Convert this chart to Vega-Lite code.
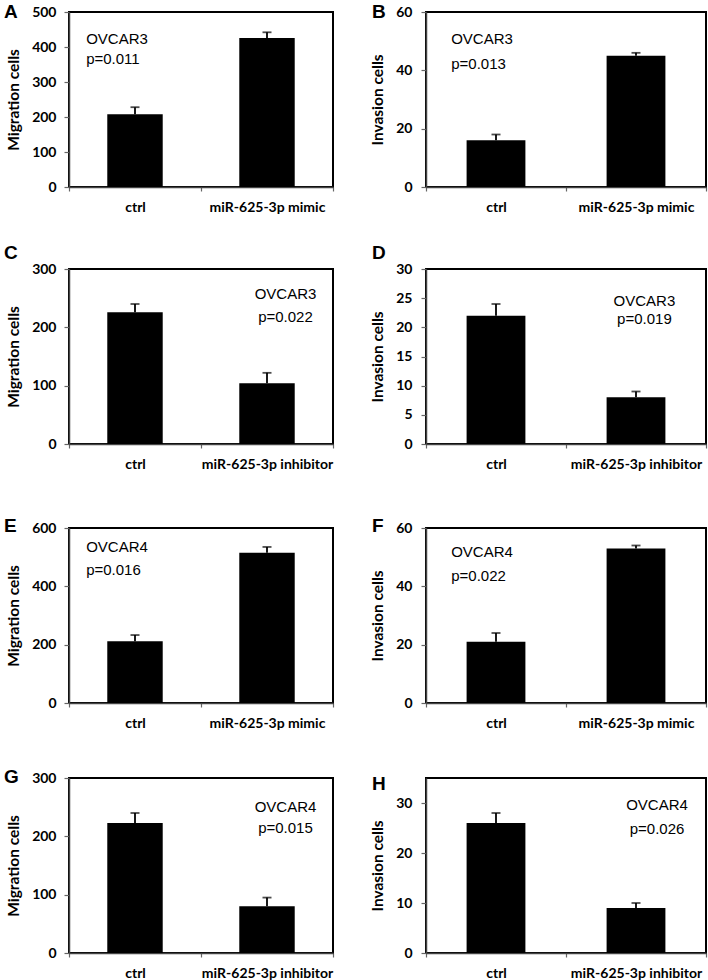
{
  "$schema": "https://vega.github.io/schema/vega-lite/v6.json",
  "padding": {"left": 3, "top": 2, "right": 0, "bottom": 0},
  "background": "white",
  "config": {
    "view": {"stroke": "black", "strokeWidth": 2},
    "axis": {"grid": false, "domainColor": "#444", "domainWidth": 1.5, "tickColor": "#666", "tickWidth": 1.2, "labelFont": "Lato", "labelFontWeight": "bold", "labelFontSize": 14, "labelColor": "black", "titleFont": "Lato", "titleFontWeight": "bold", "titleFontSize": 15.5, "titleColor": "black"},
    "axisY": {"tickSize": 5, "labelPadding": 8, "titlePadding": 10},
    "axisX": {"tickSize": 4, "labelPadding": 9, "labelAngle": 0, "tickBand": "extent"},
    "title": {"font": "Liberation Sans", "fontSize": 19, "fontWeight": "bold", "color": "black", "anchor": "start", "frame": "group", "baseline": "top", "offset": 0}
  },
  "spacing": 44,
  "vconcat": [
    {
      "spacing": 28,
      "vconcat": [
        {
          "spacing": 34,
          "hconcat": [
            {
              "width": 264, "height": 175,
              "title": {"text": "A", "dx": -65, "dy": 21},
              "data": {"values": [{"grp": "ctrl", "value": 208, "upper": 228}, {"grp": "miR-625-3p mimic", "value": 426, "upper": 442}]},
              "encoding": {
                "x": {"field": "grp", "type": "nominal", "sort": null, "title": null, "scale": {"paddingInner": 0, "paddingOuter": 0}},
                "y": {"field": "value", "type": "quantitative", "title": "Migration cells", "scale": {"domain": [0, 500], "nice": false}, "axis": {"values": [0, 100, 200, 300, 400, 500]}}
              },
              "layer": [
                {"mark": {"type": "bar", "color": "black", "width": {"band": 0.42}}},
                {"mark": {"type": "rule", "color": "black", "strokeWidth": 1.8}, "encoding": {"y2": {"field": "upper"}}},
                {"mark": {"type": "tick", "color": "black", "thickness": 1.8, "size": 9, "orient": "horizontal"}, "encoding": {"y": {"field": "upper", "type": "quantitative", "title": "Migration cells"}}},
                {"data": {"values": [{"grp": "ctrl", "value": 409, "label": "OVCAR3"}, {"grp": "ctrl", "value": 351, "label": "p=0.011"}]},
                 "mark": {"type": "text", "align": "left", "baseline": "alphabetic", "font": "Liberation Sans", "fontSize": 15},
                 "encoding": {"x": {"field": "grp", "type": "nominal", "sort": null, "bandPosition": 0.13, "title": null}, "text": {"field": "label"}}}
              ]
            },
            {
              "width": 280, "height": 175,
              "title": {"text": "B", "dx": -54, "dy": 21},
              "data": {"values": [{"grp": "ctrl", "value": 16, "upper": 18}, {"grp": "miR-625-3p mimic", "value": 45, "upper": 46}]},
              "encoding": {
                "x": {"field": "grp", "type": "nominal", "sort": null, "title": null, "scale": {"paddingInner": 0, "paddingOuter": 0}},
                "y": {"field": "value", "type": "quantitative", "title": "Invasion cells", "scale": {"domain": [0, 60], "nice": false}, "axis": {"values": [0, 20, 40, 60], "labelPadding": 9}}
              },
              "layer": [
                {"mark": {"type": "bar", "color": "black", "width": {"band": 0.42}}},
                {"mark": {"type": "rule", "color": "black", "strokeWidth": 1.8}, "encoding": {"y2": {"field": "upper"}}},
                {"mark": {"type": "tick", "color": "black", "thickness": 1.8, "size": 9, "orient": "horizontal"}, "encoding": {"y": {"field": "upper", "type": "quantitative", "title": "Invasion cells"}}},
                {"data": {"values": [{"grp": "ctrl", "value": 49, "label": "OVCAR3"}, {"grp": "ctrl", "value": 40.3, "label": "p=0.013"}]},
                 "mark": {"type": "text", "align": "left", "baseline": "alphabetic", "font": "Liberation Sans", "fontSize": 15},
                 "encoding": {"x": {"field": "grp", "type": "nominal", "sort": null, "bandPosition": 0.18, "title": null}, "text": {"field": "label"}}}
              ]
            }
          ]
        },
        {
          "spacing": 34,
          "hconcat": [
            {
              "width": 264, "height": 175,
              "title": {"text": "C", "dx": -65, "dy": 5},
              "data": {"values": [{"grp": "ctrl", "value": 226, "upper": 240}, {"grp": "miR-625-3p inhibitor", "value": 104, "upper": 122}]},
              "encoding": {
                "x": {"field": "grp", "type": "nominal", "sort": null, "title": null, "scale": {"paddingInner": 0, "paddingOuter": 0}},
                "y": {"field": "value", "type": "quantitative", "title": "Migration cells", "scale": {"domain": [0, 300], "nice": false}, "axis": {"values": [0, 100, 200, 300]}}
              },
              "layer": [
                {"mark": {"type": "bar", "color": "black", "width": {"band": 0.42}}},
                {"mark": {"type": "rule", "color": "black", "strokeWidth": 1.8}, "encoding": {"y2": {"field": "upper"}}},
                {"mark": {"type": "tick", "color": "black", "thickness": 1.8, "size": 9, "orient": "horizontal"}, "encoding": {"y": {"field": "upper", "type": "quantitative", "title": "Migration cells"}}},
                {"data": {"values": [{"grp": "miR-625-3p inhibitor", "value": 248, "label": "OVCAR3"}, {"grp": "miR-625-3p inhibitor", "value": 209, "label": "p=0.022"}]},
                 "mark": {"type": "text", "align": "center", "baseline": "alphabetic", "font": "Liberation Sans", "fontSize": 15},
                 "encoding": {"x": {"field": "grp", "type": "nominal", "sort": null, "bandPosition": 0.64, "title": null}, "text": {"field": "label"}}}
              ]
            },
            {
              "width": 280, "height": 175,
              "title": {"text": "D", "dx": -54, "dy": 5},
              "data": {"values": [{"grp": "ctrl", "value": 22, "upper": 24}, {"grp": "miR-625-3p inhibitor", "value": 8, "upper": 9}]},
              "encoding": {
                "x": {"field": "grp", "type": "nominal", "sort": null, "title": null, "scale": {"paddingInner": 0, "paddingOuter": 0}},
                "y": {"field": "value", "type": "quantitative", "title": "Invasion cells", "scale": {"domain": [0, 30], "nice": false}, "axis": {"values": [0, 5, 10, 15, 20, 25, 30], "labelPadding": 9}}
              },
              "layer": [
                {"mark": {"type": "bar", "color": "black", "width": {"band": 0.42}}},
                {"mark": {"type": "rule", "color": "black", "strokeWidth": 1.8}, "encoding": {"y2": {"field": "upper"}}},
                {"mark": {"type": "tick", "color": "black", "thickness": 1.8, "size": 9, "orient": "horizontal"}, "encoding": {"y": {"field": "upper", "type": "quantitative", "title": "Invasion cells"}}},
                {"data": {"values": [{"grp": "miR-625-3p inhibitor", "value": 23.7, "label": "OVCAR3"}, {"grp": "miR-625-3p inhibitor", "value": 20.6, "label": "p=0.019"}]},
                 "mark": {"type": "text", "align": "center", "baseline": "alphabetic", "font": "Liberation Sans", "fontSize": 15},
                 "encoding": {"x": {"field": "grp", "type": "nominal", "sort": null, "bandPosition": 0.56, "title": null}, "text": {"field": "label"}}}
              ]
            }
          ]
        }
      ]
    },
    {
      "spacing": 36,
      "vconcat": [
        {
          "spacing": 34,
          "hconcat": [
            {
              "width": 264, "height": 175,
              "title": {"text": "E", "dx": -65, "dy": 19},
              "data": {"values": [{"grp": "ctrl", "value": 212, "upper": 233}, {"grp": "miR-625-3p mimic", "value": 515, "upper": 535}]},
              "encoding": {
                "x": {"field": "grp", "type": "nominal", "sort": null, "title": null, "scale": {"paddingInner": 0, "paddingOuter": 0}},
                "y": {"field": "value", "type": "quantitative", "title": "Migration cells", "scale": {"domain": [0, 600], "nice": false}, "axis": {"values": [0, 200, 400, 600]}}
              },
              "layer": [
                {"mark": {"type": "bar", "color": "black", "width": {"band": 0.42}}},
                {"mark": {"type": "rule", "color": "black", "strokeWidth": 1.8}, "encoding": {"y2": {"field": "upper"}}},
                {"mark": {"type": "tick", "color": "black", "thickness": 1.8, "size": 9, "orient": "horizontal"}, "encoding": {"y": {"field": "upper", "type": "quantitative", "title": "Migration cells"}}},
                {"data": {"values": [{"grp": "ctrl", "value": 517, "label": "OVCAR4"}, {"grp": "ctrl", "value": 438, "label": "p=0.016"}]},
                 "mark": {"type": "text", "align": "left", "baseline": "alphabetic", "font": "Liberation Sans", "fontSize": 15},
                 "encoding": {"x": {"field": "grp", "type": "nominal", "sort": null, "bandPosition": 0.13, "title": null}, "text": {"field": "label"}}}
              ]
            },
            {
              "width": 280, "height": 175,
              "title": {"text": "F", "dx": -54, "dy": 19},
              "data": {"values": [{"grp": "ctrl", "value": 21, "upper": 24}, {"grp": "miR-625-3p mimic", "value": 53, "upper": 54}]},
              "encoding": {
                "x": {"field": "grp", "type": "nominal", "sort": null, "title": null, "scale": {"paddingInner": 0, "paddingOuter": 0}},
                "y": {"field": "value", "type": "quantitative", "title": "Invasion cells", "scale": {"domain": [0, 60], "nice": false}, "axis": {"values": [0, 20, 40, 60], "labelPadding": 9}}
              },
              "layer": [
                {"mark": {"type": "bar", "color": "black", "width": {"band": 0.42}}},
                {"mark": {"type": "rule", "color": "black", "strokeWidth": 1.8}, "encoding": {"y2": {"field": "upper"}}},
                {"mark": {"type": "tick", "color": "black", "thickness": 1.8, "size": 9, "orient": "horizontal"}, "encoding": {"y": {"field": "upper", "type": "quantitative", "title": "Invasion cells"}}},
                {"data": {"values": [{"grp": "ctrl", "value": 50, "label": "OVCAR4"}, {"grp": "ctrl", "value": 42, "label": "p=0.022"}]},
                 "mark": {"type": "text", "align": "left", "baseline": "alphabetic", "font": "Liberation Sans", "fontSize": 15},
                 "encoding": {"x": {"field": "grp", "type": "nominal", "sort": null, "bandPosition": 0.18, "title": null}, "text": {"field": "label"}}}
              ]
            }
          ]
        },
        {
          "spacing": 34,
          "hconcat": [
            {
              "width": 264, "height": 175,
              "title": {"text": "G", "dx": -65, "dy": 20},
              "data": {"values": [{"grp": "ctrl", "value": 223, "upper": 240}, {"grp": "miR-625-3p inhibitor", "value": 80, "upper": 95}]},
              "encoding": {
                "x": {"field": "grp", "type": "nominal", "sort": null, "title": null, "scale": {"paddingInner": 0, "paddingOuter": 0}},
                "y": {"field": "value", "type": "quantitative", "title": "Migration cells", "scale": {"domain": [0, 300], "nice": false}, "axis": {"values": [0, 100, 200, 300]}}
              },
              "layer": [
                {"mark": {"type": "bar", "color": "black", "width": {"band": 0.42}}},
                {"mark": {"type": "rule", "color": "black", "strokeWidth": 1.8}, "encoding": {"y2": {"field": "upper"}}},
                {"mark": {"type": "tick", "color": "black", "thickness": 1.8, "size": 9, "orient": "horizontal"}, "encoding": {"y": {"field": "upper", "type": "quantitative", "title": "Migration cells"}}},
                {"data": {"values": [{"grp": "miR-625-3p inhibitor", "value": 241, "label": "OVCAR4"}, {"grp": "miR-625-3p inhibitor", "value": 205, "label": "p=0.015"}]},
                 "mark": {"type": "text", "align": "center", "baseline": "alphabetic", "font": "Liberation Sans", "fontSize": 15},
                 "encoding": {"x": {"field": "grp", "type": "nominal", "sort": null, "bandPosition": 0.64, "title": null}, "text": {"field": "label"}}}
              ]
            },
            {
              "width": 280, "height": 175,
              "title": {"text": "H", "dx": -54, "dy": 20},
              "data": {"values": [{"grp": "ctrl", "value": 26, "upper": 28}, {"grp": "miR-625-3p inhibitor", "value": 9, "upper": 10}]},
              "encoding": {
                "x": {"field": "grp", "type": "nominal", "sort": null, "title": null, "scale": {"paddingInner": 0, "paddingOuter": 0}},
                "y": {"field": "value", "type": "quantitative", "title": "Invasion cells", "scale": {"domain": [0, 35], "nice": false}, "axis": {"values": [0, 10, 20, 30], "labelPadding": 9}}
              },
              "layer": [
                {"mark": {"type": "bar", "color": "black", "width": {"band": 0.42}}},
                {"mark": {"type": "rule", "color": "black", "strokeWidth": 1.8}, "encoding": {"y2": {"field": "upper"}}},
                {"mark": {"type": "tick", "color": "black", "thickness": 1.8, "size": 9, "orient": "horizontal"}, "encoding": {"y": {"field": "upper", "type": "quantitative", "title": "Invasion cells"}}},
                {"data": {"values": [{"grp": "miR-625-3p inhibitor", "value": 28.6, "label": "OVCAR4"}, {"grp": "miR-625-3p inhibitor", "value": 23.9, "label": "p=0.026"}]},
                 "mark": {"type": "text", "align": "center", "baseline": "alphabetic", "font": "Liberation Sans", "fontSize": 15},
                 "encoding": {"x": {"field": "grp", "type": "nominal", "sort": null, "bandPosition": 0.65, "title": null}, "text": {"field": "label"}}}
              ]
            }
          ]
        }
      ]
    }
  ]
}
